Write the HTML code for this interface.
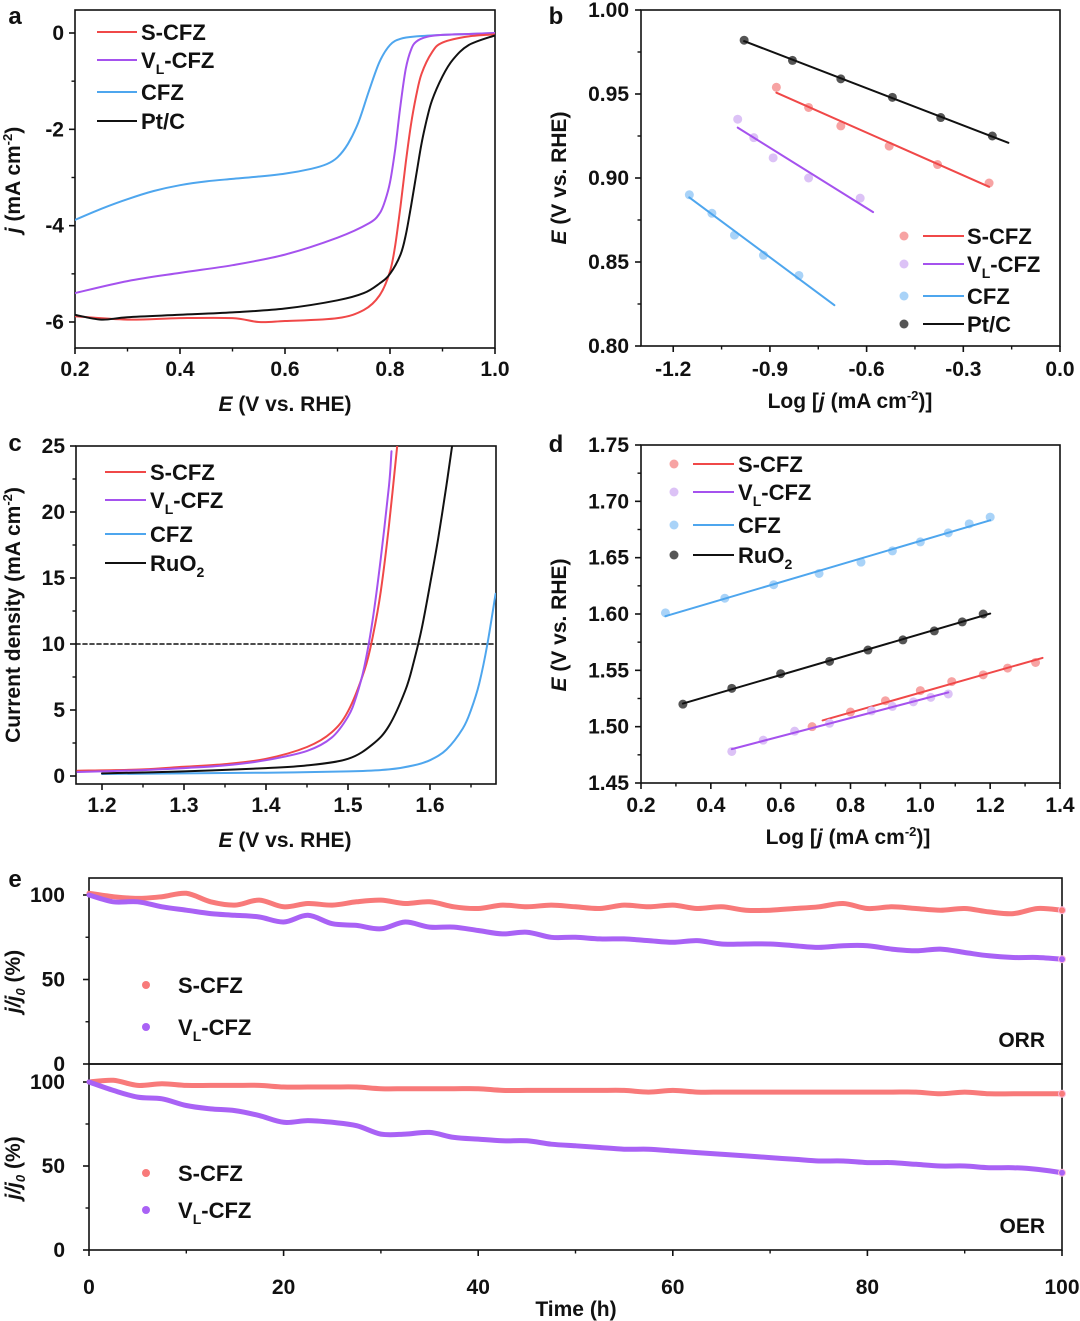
<!DOCTYPE html>
<html><head><meta charset="utf-8">
<style>
html,body{margin:0;padding:0;background:#fff;}
svg{display:block;font-family:"Liberation Sans",Arial,sans-serif;font-weight:bold;}
</style></head>
<body>
<svg id="fig" width="1080" height="1321" viewBox="0 0 1080 1321" xmlns="http://www.w3.org/2000/svg"></svg>
<script>
// ---------- Panel a data (ORR LSV) ----------
const aCfzE=[0.2,0.25,0.3,0.35,0.4,0.45,0.5,0.55,0.6,0.65,0.68,0.7,0.72,0.74,0.76,0.78,0.8,0.82,0.85,0.9,0.95,1.0];
const aCfzJ=[-3.88,-3.65,-3.45,-3.28,-3.16,-3.08,-3.03,-2.98,-2.92,-2.82,-2.72,-2.58,-2.3,-1.85,-1.2,-0.6,-0.25,-0.12,-0.07,-0.04,-0.02,0];
const aVlE=[0.2,0.3,0.4,0.5,0.6,0.7,0.76,0.78,0.79,0.8,0.81,0.82,0.83,0.84,0.85,0.87,0.9,0.95,1.0];
const aVlJ=[-5.4,-5.15,-4.98,-4.82,-4.6,-4.25,-3.95,-3.75,-3.5,-3.1,-2.4,-1.5,-0.75,-0.35,-0.18,-0.08,-0.04,-0.02,0];
const aSE=[0.2,0.3,0.4,0.5,0.55,0.6,0.7,0.75,0.78,0.8,0.81,0.82,0.83,0.84,0.85,0.86,0.88,0.9,0.95,1.0];
const aSJ=[-5.88,-5.95,-5.92,-5.92,-6.0,-5.98,-5.92,-5.75,-5.45,-4.95,-4.4,-3.6,-2.7,-1.9,-1.3,-0.85,-0.4,-0.2,-0.07,-0.03];
const aPtE=[0.2,0.25,0.3,0.4,0.5,0.6,0.7,0.75,0.78,0.8,0.82,0.83,0.84,0.85,0.86,0.87,0.88,0.9,0.92,0.95,1.0];
const aPtJ=[-5.85,-5.95,-5.9,-5.85,-5.8,-5.72,-5.55,-5.4,-5.2,-5.0,-4.6,-4.2,-3.6,-2.95,-2.3,-1.8,-1.4,-0.9,-0.55,-0.25,-0.05];
const aXTicks=["0.2","0.4","0.6","0.8","1.0"];
const aYTicks=["0","-2","-4","-6"];
// ---------- Panel b data (ORR Tafel) ----------
const bPtX=[-0.98,-0.83,-0.68,-0.52,-0.37,-0.21];
const bPtY=[0.982,0.970,0.959,0.948,0.936,0.925];
const bSX=[-0.88,-0.78,-0.68,-0.53,-0.38,-0.22];
const bSY=[0.954,0.942,0.931,0.919,0.908,0.897];
const bVlX=[-1.0,-0.95,-0.89,-0.78,-0.62];
const bVlY=[0.935,0.924,0.912,0.900,0.888];
const bCfzX=[-1.15,-1.08,-1.01,-0.92,-0.81];
const bCfzY=[0.890,0.879,0.866,0.854,0.842];
const bFitRange={pt:[-0.98,-0.16],s:[-0.88,-0.22],vl:[-1.0,-0.58],cfz:[-1.15,-0.70]};
const bXTicks=["-1.2","-0.9","-0.6","-0.3","0.0"];
const bYTicks=["0.80","0.85","0.90","0.95","1.00"];
// ---------- Panel c data (OER LSV) ----------
const cSE=[1.17,1.25,1.3,1.35,1.4,1.45,1.48,1.5,1.52,1.53,1.54,1.55,1.56];
const cSJ=[0.4,0.5,0.7,0.9,1.3,2.2,3.3,4.9,8,10.5,14,19,25];
const cVlE=[1.17,1.25,1.3,1.35,1.4,1.45,1.48,1.5,1.51,1.52,1.53,1.54,1.55,1.553];
const cVlJ=[0.3,0.45,0.6,0.8,1.2,1.9,2.9,4.5,6,8.3,11.8,16.5,22,24.6];
const cRuE=[1.2,1.3,1.4,1.45,1.5,1.53,1.55,1.57,1.58,1.59,1.6,1.61,1.62,1.627];
const cRuJ=[0.2,0.35,0.6,0.8,1.3,2.4,3.8,6.5,8.6,11.2,14.5,18,22,25];
const cCfzE=[1.2,1.3,1.4,1.5,1.55,1.58,1.6,1.62,1.64,1.65,1.66,1.67,1.68];
const cCfzJ=[0.15,0.2,0.25,0.35,0.5,0.8,1.2,2,3.6,5,7,10,13.8];
const cRef=[10];
const cXTicks=["1.2","1.3","1.4","1.5","1.6"];
const cYTicks=["0","5","10","15","20","25"];
// ---------- Panel d data (OER Tafel) ----------
const dCfzX=[0.27,0.44,0.58,0.71,0.83,0.92,1.0,1.08,1.14,1.2];
const dCfzY=[1.601,1.614,1.626,1.636,1.646,1.656,1.664,1.672,1.680,1.686];
const dRuX=[0.32,0.46,0.6,0.74,0.85,0.95,1.04,1.12,1.18];
const dRuY=[1.520,1.534,1.547,1.558,1.568,1.577,1.585,1.593,1.600];
const dSX=[0.69,0.8,0.9,1.0,1.09,1.18,1.25,1.33];
const dSY=[1.500,1.513,1.523,1.532,1.540,1.546,1.552,1.557];
const dVlX=[0.46,0.55,0.64,0.74,0.86,0.92,0.98,1.03,1.08];
const dVlY=[1.478,1.488,1.496,1.503,1.514,1.518,1.522,1.526,1.529];
const dFitRange={cfz:[0.27,1.2],ru:[0.32,1.2],s:[0.72,1.35],vl:[0.46,1.08]};
const dXTicks=["0.2","0.4","0.6","0.8","1.0","1.2","1.4"];
const dYTicks=["1.45","1.50","1.55","1.60","1.65","1.70","1.75"];
// ---------- Panel e data (stability) ----------
const eTimeStep=2.5;
const eOrrS=[101,99,98,99,101,96,94,97,93,95,94,96,97,95,96,93,92,94,93,94,93,92,94,93,94,92,93,91,91,92,93,95,92,93,92,91,92,90,89,92,91];
const eOrrVl=[100,96,96,93,91,89,88,87,84,88,83,82,80,84,81,81,79,77,78,75,75,74,74,73,72,73,71,71,71,70,69,70,70,68,67,68,66,64,63,63,62];
const eOerS=[100,101,98,99,98,98,98,98,97,97,97,97,96,96,96,96,96,95,95,95,95,95,95,94,95,94,94,94,94,94,94,94,94,94,94,93,94,93,93,93,93];
const eOerVl=[100,95,91,90,86,84,83,80,76,77,76,74,69,69,70,67,66,65,65,63,62,61,60,60,59,58,57,56,55,54,53,53,52,52,51,50,50,49,49,48,46];
const eXTicks=["0","20","40","60","80","100"];
const eYTicks=["0","50","100"];

// ---------- helpers ----------
const NS="http://www.w3.org/2000/svg";
const svg=document.getElementById('fig');
function mk(tag,attrs,parent){const e=document.createElementNS(NS,tag);for(const k in attrs)e.setAttribute(k,attrs[k]);(parent||svg).appendChild(e);return e;}
function scale(d0,d1,p0,p1){return v=>p0+(v-d0)*(p1-p0)/(d1-d0);}
function txt(x,y,s,opt,parent){opt=opt||{};const t=mk('text',{x:x,y:y,'font-size':opt.size||21,'text-anchor':opt.anchor||'middle',fill:opt.fill||'#111'},parent);if(opt.rot)t.setAttribute('transform','rotate(-90 '+x+' '+y+')');t.innerHTML=s;return t;}
function line(pts,color,w,parent,dash){const p=mk('polyline',{points:pts.map(q=>q[0].toFixed(1)+','+q[1].toFixed(1)).join(' '),fill:'none',stroke:color,'stroke-width':w,'stroke-linejoin':'round','stroke-linecap':'round'},parent);if(dash)p.setAttribute('stroke-dasharray',dash);return p;}
function smooth(pts,color,w,parent){
  let d='M'+pts[0][0].toFixed(1)+','+pts[0][1].toFixed(1);
  for(let i=0;i<pts.length-1;i++){
    const p0=pts[Math.max(0,i-1)],p1=pts[i],p2=pts[i+1],p3=pts[Math.min(pts.length-1,i+2)];
    const c1=[p1[0]+(p2[0]-p0[0])/6,p1[1]+(p2[1]-p0[1])/6],c2=[p2[0]-(p3[0]-p1[0])/6,p2[1]-(p3[1]-p1[1])/6];
    d+=' C'+c1[0].toFixed(1)+','+c1[1].toFixed(1)+' '+c2[0].toFixed(1)+','+c2[1].toFixed(1)+' '+p2[0].toFixed(1)+','+p2[1].toFixed(1);
  }
  return mk('path',{d:d,fill:'none',stroke:color,'stroke-width':w,'stroke-linejoin':'round','stroke-linecap':'round'},parent);
}
function fit(xs,ys){const n=xs.length;let sx=0,sy=0,sxx=0,sxy=0;for(let i=0;i<n;i++){sx+=xs[i];sy+=ys[i];sxx+=xs[i]*xs[i];sxy+=xs[i]*ys[i];}const m=(n*sxy-sx*sy)/(n*sxx-sx*sx);return [m,(sy-m*sx)/n];}
function frame(g,L,T,R,B){mk('rect',{x:L,y:T,width:R-L,height:B-T,fill:'none',stroke:'#111','stroke-width':1.6},g);}
function xticks(g,sx,B,labels,minors,ly){labels.forEach(l=>{const x=sx(parseFloat(l));mk('line',{x1:x,y1:B,x2:x,y2:B+6,stroke:'#111','stroke-width':1.6},g);const t=txt(x,ly,l,{},g);});minors.forEach(v=>{const x=sx(v);mk('line',{x1:x,y1:B,x2:x,y2:B+3.5,stroke:'#111','stroke-width':1.4},g);});}
function yticks(g,sy,L,labels,minors,lx){labels.forEach(l=>{const y=sy(parseFloat(l));mk('line',{x1:L-6,y1:y,x2:L,y2:y,stroke:'#111','stroke-width':1.6},g);const t=txt(lx,y+7,l,{anchor:'end'},g);});minors.forEach(v=>{const y=sy(v);mk('line',{x1:L-3.5,y1:y,x2:L,y2:y,stroke:'#111','stroke-width':1.4},g);});}
function grp(name){const g=mk('g',{});return g;}
function range(a,b,s){const r=[];for(let v=a;v<=b+1e-9;v+=s)r.push(+v.toFixed(4));return r;}
const RED='#f04848',PUR='#a552ee',BLU='#4ea6ee',BLK='#111';
const LRED='#f7a3a3',LPUR='#dcc2f6',LBLU='#a9d3f8',LBLK='#555';
const VL='V<tspan font-size="14" dy="6">L</tspan><tspan dy="-6">-CFZ</tspan>';
const LEG=22;

// ---------- Panel a ----------
(function(){
const g=grp('panel-a');const L=75,R=495,T=10,B=348;
const sx=scale(0.2,1.0,L,R), sy=scale(0,-6,33,322);
frame(g,L,T,R,B);
xticks(g,sx,B,aXTicks,range(0.3,0.9,0.2),376);
yticks(g,sy,L,aYTicks,[-1,-3,-5],64);
const clip=mk('clipPath',{id:'ca'},g);mk('rect',{x:L,y:T,width:R-L,height:B-T},clip);
const cg=mk('g',{'clip-path':'url(#ca)'},g);
[[aCfzE,aCfzJ,BLU,'cfz'],[aVlE,aVlJ,PUR,'vl-cfz'],[aSE,aSJ,RED,'s-cfz'],[aPtE,aPtJ,BLK,'pt-c']].forEach(s=>{
 const p=smooth(s[0].map((e,i)=>[sx(e),sy(s[1][i])]),s[2],2,cg);
 });
const legs=[['S-CFZ',RED,32],[VL,PUR,60],['CFZ',BLU,92],['Pt/C',BLK,121]];
legs.forEach(l=>{const lg=mk('g',{},g);mk('line',{x1:97,y1:l[2],x2:137,y2:l[2],stroke:l[1],'stroke-width':2},lg);txt(141,l[2]+8,l[0],{anchor:'start',size:LEG},lg);});
txt(15,24,'a',{size:24,anchor:'middle'},g);
txt(285,411,'<tspan font-style="italic">E</tspan> (V vs. RHE)',{},g);
txt(20,180,'<tspan font-style="italic">j</tspan> (mA cm<tspan font-size="13" dy="-8">-2</tspan><tspan dy="8">)</tspan>',{rot:true},g);
})();

// ---------- Panel b ----------
(function(){
const g=grp('panel-b');const L=641,R=1060,T=10,B=346;
const sx=scale(-1.3,0,L,R), sy=scale(0.8,1.0,B,T);
frame(g,L,T,R,B);
xticks(g,sx,B,bXTicks,range(-1.05,-0.15,0.3),376);
yticks(g,sy,L,bYTicks,range(0.825,0.975,0.05),629);
const sets=[[bPtX,bPtY,BLK,LBLK,'pt',bFitRange.pt],[bSX,bSY,RED,LRED,'s',bFitRange.s],[bVlX,bVlY,PUR,LPUR,'vl',bFitRange.vl],[bCfzX,bCfzY,BLU,LBLU,'cfz',bFitRange.cfz]];
sets.forEach(s=>{
 s[0].forEach((x,i)=>{const c=mk('circle',{cx:sx(x),cy:sy(s[1][i]),r:4.5,fill:s[3]},g);});
 const f=fit(s[0],s[1]);const p=line(s[5].map(x=>[sx(x),sy(f[0]*x+f[1])]),s[2],2,g);
 });
const legs=[['S-CFZ',RED,LRED,236],[VL,PUR,LPUR,264],['CFZ',BLU,LBLU,296],['Pt/C',BLK,LBLK,324]];
legs.forEach(l=>{const lg=mk('g',{},g);mk('circle',{cx:904,cy:l[3],r:4.5,fill:l[2]},lg);mk('line',{x1:923,y1:l[3],x2:964,y2:l[3],stroke:l[1],'stroke-width':2},lg);txt(967,l[3]+8,l[0],{anchor:'start',size:LEG},lg);});
txt(556,24,'b',{size:24},g);
txt(850,408,'Log [<tspan font-style="italic">j</tspan> (mA cm<tspan font-size="13" dy="-8">-2</tspan><tspan dy="8">)]</tspan>',{},g);
txt(566,178,'<tspan font-style="italic">E</tspan> (V vs. RHE)',{rot:true},g);
})();

// ---------- Panel c ----------
(function(){
const g=grp('panel-c');const L=76,R=496,T=446,B=784;
const sx=scale(1.2,1.6,102,430), sy=scale(0,25,776,446);
frame(g,L,T,R,B);
xticks(g,sx,B,cXTicks,range(1.25,1.65,0.1),812);
yticks(g,sy,L,cYTicks,range(2.5,22.5,5),65);
const clip=mk('clipPath',{id:'cc'},g);mk('rect',{x:L,y:T,width:R-L,height:B-T},clip);
const cg=mk('g',{'clip-path':'url(#cc)'},g);
const ref=line([[L,sy(cRef[0])],[R,sy(cRef[0])]],'#111',1.6,cg,'4,3');
[[cCfzE,cCfzJ,BLU,'cfz'],[cRuE,cRuJ,BLK,'ruo2'],[cSE,cSJ,RED,'s-cfz'],[cVlE,cVlJ,PUR,'vl-cfz']].forEach(s=>{
 const p=smooth(s[0].map((e,i)=>[sx(e),sy(s[1][i])]),s[2],2,cg);
 });
const legs=[['S-CFZ',RED,472],[VL,PUR,500],['CFZ',BLU,534],['RuO<tspan font-size="14" dy="6">2</tspan>',BLK,563]];
legs.forEach(l=>{const lg=mk('g',{},g);mk('line',{x1:105,y1:l[2],x2:146,y2:l[2],stroke:l[1],'stroke-width':2},lg);txt(150,l[2]+8,l[0],{anchor:'start',size:LEG},lg);});
txt(15,451,'c',{size:24},g);
txt(285,847,'<tspan font-style="italic">E</tspan> (V vs. RHE)',{},g);
txt(20,615,'Current density (mA cm<tspan font-size="13" dy="-8">-2</tspan><tspan dy="8">)</tspan>',{rot:true},g);
})();

// ---------- Panel d ----------
(function(){
const g=grp('panel-d');const L=641,R=1060,T=445,B=783;
const sx=scale(0.2,1.4,L,R), sy=scale(1.45,1.75,B,T);
frame(g,L,T,R,B);
xticks(g,sx,B,dXTicks,range(0.3,1.3,0.2),812);
yticks(g,sy,L,dYTicks,range(1.475,1.725,0.05),629);
const sets=[[dCfzX,dCfzY,BLU,LBLU,'cfz',dFitRange.cfz],[dRuX,dRuY,BLK,LBLK,'ruo2',dFitRange.ru],[dSX,dSY,RED,LRED,'s',dFitRange.s],[dVlX,dVlY,PUR,LPUR,'vl',dFitRange.vl]];
sets.forEach(s=>{
 s[0].forEach((x,i)=>{const c=mk('circle',{cx:sx(x),cy:sy(s[1][i]),r:4.5,fill:s[3]},g);});
 const f=fit(s[0],s[1]);const p=line(s[5].map(x=>[sx(x),sy(f[0]*x+f[1])]),s[2],2,g);
 });
const legs=[['S-CFZ',RED,LRED,464],[VL,PUR,LPUR,492],['CFZ',BLU,LBLU,525],['RuO<tspan font-size="14" dy="6">2</tspan>',BLK,LBLK,555]];
legs.forEach(l=>{const lg=mk('g',{},g);mk('circle',{cx:674,cy:l[3],r:4.5,fill:l[2]},lg);mk('line',{x1:693,y1:l[3],x2:734,y2:l[3],stroke:l[1],'stroke-width':2},lg);txt(738,l[3]+8,l[0],{anchor:'start',size:LEG},lg);});
txt(556,452,'d',{size:24},g);
txt(848,844,'Log [<tspan font-style="italic">j</tspan> (mA cm<tspan font-size="13" dy="-8">-2</tspan><tspan dy="8">)]</tspan>',{},g);
txt(566,625,'<tspan font-style="italic">E</tspan> (V vs. RHE)',{rot:true},g);
})();

// ---------- Panel e ----------
(function(){
const g=grp('panel-e');const L=89,R=1062;
const sx=scale(0,100,L,R);
const sub=[{T:878,B:1064,y100:895,s:eOrrS,v:eOrrVl,tag:'ORR',leg:[985,1027],name:'orr'},{T:1064,B:1250,y100:1082,s:eOerS,v:eOerVl,tag:'OER',leg:[1173,1210],name:'oer'}];
sub.forEach(p=>{
 const sg=mk('g',{},g);
 const sy=scale(0,100,p.B,p.y100);
 frame(sg,L,p.T,R,p.B);
 yticks(sg,sy,L,eYTicks,[25,75],65);
 [[p.s,'#f87a7a','s-cfz'],[p.v,'#a962f5','vl-cfz']].forEach(ser=>{
  const pts=ser[0].map((v,i)=>[sx(i*eTimeStep),sy(v)]);
  const pl=smooth(pts,ser[1],5,sg);
  const last=pts[pts.length-1];mk('circle',{cx:last[0],cy:last[1],r:3.5,fill:ser[1],stroke:'#fbd',"stroke-width":1},sg);
 });
 const l1=mk('g',{},sg);
 mk('circle',{cx:146,cy:p.leg[0],r:4,fill:'#f87a7a'},l1);txt(178,p.leg[0]+8,'S-CFZ',{anchor:'start',size:LEG},l1);
 const l2=mk('g',{},sg);
 mk('circle',{cx:146,cy:p.leg[1],r:4,fill:'#a962f5'},l2);txt(178,p.leg[1]+8,VL,{anchor:'start',size:LEG},l2);
 txt(1045,p.B-17,p.tag,{anchor:'end'},sg);
 txt(20,p.y100+(p.B-p.y100)/2+2,'<tspan font-style="italic">j/j<tspan font-size="13" dy="5">0</tspan></tspan><tspan dy="-5"> (%)</tspan>',{rot:true},sg);
});
xticks(g,sx,1250,eXTicks,range(10,90,20),1294);
txt(15,887,'e',{size:24},g);
txt(576,1316,'Time (h)',{},g);
})();
</script>
</body></html>
